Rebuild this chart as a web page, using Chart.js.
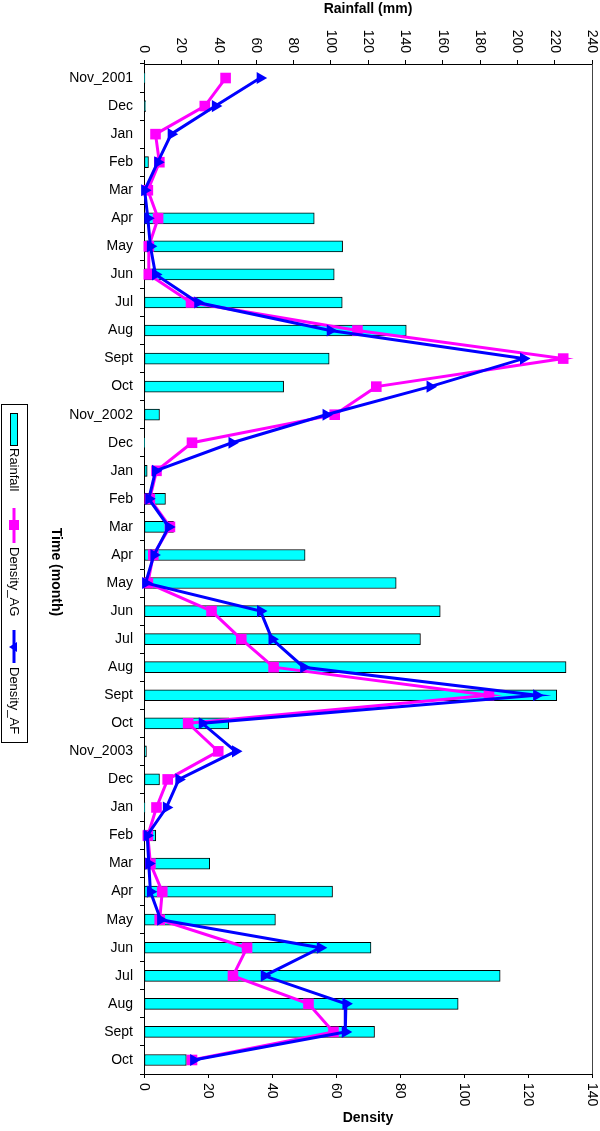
<!DOCTYPE html>
<html>
<head>
<meta charset="utf-8">
<script src="https://cdn.jsdelivr.net/npm/chart.js@4/dist/chart.umd.min.js"></script>
<style>
  html, body { margin: 0; padding: 0; background: #fff; }
</style>
</head>
<body>
<canvas id="chart" width="600" height="1131"></canvas>
<script>
// categories (one per month, Nov 2001 - Oct 2004)
const months = ['Nov_2001', 'Dec', 'Jan', 'Feb', 'Mar', 'Apr', 'May', 'Jun', 'Jul', 'Aug', 'Sept', 'Oct',
  'Nov_2002', 'Dec', 'Jan', 'Feb', 'Mar', 'Apr', 'May', 'Jun', 'Jul', 'Aug', 'Sept', 'Oct',
  'Nov_2003', 'Dec', 'Jan', 'Feb', 'Mar', 'Apr', 'May', 'Jun', 'Jul', 'Aug', 'Sept', 'Oct'];

// rainfall in mm (top axis)
const rainfall = [0.5, 0.8, 0, 2.4, 0, 91.2, 106.4, 101.9, 106.2, 140.5, 99.2, 74.8,
  8.3, 0.3, 1.7, 11.5, 15.8, 86.3, 135.1, 158.7, 148.1, 226.1, 221.1, 45.4,
  1.3, 8.3, 0.5, 6.3, 35.2, 101.0, 70.4, 121.6, 190.8, 168.3, 123.5, 22.7];

// densities (bottom axis)
const densityAG = [25.5, 19.0, 3.6, 4.8, 1.2, 4.4, 1.5, 1.5, 14.7, 66.7, 131.0, 72.6,
  59.6, 15.0, 3.9, 1.8, 8.1, 2.9, 1.2, 21.1, 30.4, 40.5, 107.8, 13.8,
  23.2, 7.4, 3.9, 1.2, 2.0, 5.7, 4.9, 32.2, 27.8, 51.4, 59.2, 15.0];
const densityAF = [36.3, 22.3, 8.5, 4.3, 0.2, 1.2, 2.0, 3.6, 16.8, 58.2, 118.6, 89.4,
  56.9, 27.5, 3.6, 1.5, 7.7, 3.1, 0.5, 36.4, 40.0, 49.9, 122.7, 18.2,
  28.6, 10.9, 7.0, 1.0, 1.5, 2.0, 5.2, 55.1, 37.6, 63.1, 62.9, 15.5];

// tick labels
const rainTicks = [0, 20, 40, 60, 80, 100, 120, 140, 160, 180, 200, 220, 240];
const densTicks = [0, 20, 40, 60, 80, 100, 120, 140];

const FONT = '"Liberation Sans", Arial, Helvetica, sans-serif';

// text turned a quarter turn clockwise (reads top to bottom)
const rotText = (ctx, text, x, y, align) => {
  ctx.save();
  ctx.translate(x, y);
  ctx.rotate(Math.PI / 2);
  ctx.textAlign = align;
  ctx.textBaseline = 'middle';
  ctx.fillText(text, 0, 0);
  ctx.restore();
};

const decorations = {
  id: 'decorations',
  afterDraw(chart) {
    const ctx = chart.ctx;
    const area = chart.chartArea;
    const xr = chart.scales.xr;
    const xd = chart.scales.xd;
    const midX = (area.left + area.right) / 2;
    const midY = (area.top + area.bottom) / 2;

    ctx.save();
    ctx.fillStyle = '#000';

    // value tick labels
    ctx.font = '14px ' + FONT;
    rainTicks.forEach(v => rotText(ctx, String(v), xr.getPixelForValue(v), area.top - 11, 'right'));
    densTicks.forEach(v => rotText(ctx, String(v), xd.getPixelForValue(v), area.bottom + 9, 'left'));

    // right edge of the plot box
    ctx.strokeStyle = '#444';
    ctx.lineWidth = 1;
    ctx.beginPath();
    ctx.moveTo(area.right + 0.5, area.top);
    ctx.lineTo(area.right + 0.5, area.bottom);
    ctx.stroke();

    // axis titles
    ctx.font = 'bold 14px ' + FONT;
    ctx.textAlign = 'center';
    ctx.textBaseline = 'middle';
    ctx.fillText('Rainfall (mm)', midX, 9);
    ctx.fillText('Density', midX, 1118);
    rotText(ctx, 'Time (month)', 56, midY + 3, 'center');

    // legend box
    ctx.strokeStyle = '#000';
    ctx.strokeRect(1.5, 404.5, 26, 338);

    // Rainfall swatch
    ctx.fillStyle = '#00FFFF';
    ctx.fillRect(10.5, 413.5, 7, 32);
    ctx.strokeRect(10.5, 413.5, 7, 32);

    // Density_AG symbol
    ctx.strokeStyle = '#FF00FF';
    ctx.lineWidth = 3;
    ctx.beginPath();
    ctx.moveTo(14, 508);
    ctx.lineTo(14, 543);
    ctx.stroke();
    ctx.fillStyle = '#FF00FF';
    ctx.fillRect(9, 520, 10, 10);

    // Density_AF symbol
    ctx.strokeStyle = '#0000FF';
    ctx.beginPath();
    ctx.moveTo(14, 630);
    ctx.lineTo(14, 663);
    ctx.stroke();
    ctx.fillStyle = '#0000FF';
    ctx.beginPath();
    ctx.moveTo(9, 647);
    ctx.lineTo(17, 642);
    ctx.lineTo(17, 652);
    ctx.closePath();
    ctx.fill();

    ctx.fillStyle = '#000';
    ctx.font = '13px ' + FONT;
    rotText(ctx, 'Rainfall', 14, 448, 'left');
    rotText(ctx, 'Density_AG', 14, 547, 'left');
    rotText(ctx, 'Density_AF', 14, 667, 'left');

    ctx.restore();
  }
};

const ctx = document.getElementById('chart');

new Chart(ctx, {
  type: 'bar',
  data: {
    labels: months,
    datasets: [
      {
        label: 'Rainfall',
        data: rainfall,
        xAxisID: 'xr',
        yAxisID: 'y',
        backgroundColor: '#00FFFF',
        borderColor: '#000',
        borderWidth: 1,
        borderSkipped: false,
        barThickness: 11,
        order: 3
      },
      {
        type: 'line',
        label: 'Density_AG',
        data: densityAG,
        indexAxis: 'y',
        xAxisID: 'xd',
        yAxisID: 'y',
        borderColor: '#FF00FF',
        backgroundColor: '#FF00FF',
        borderWidth: 3,
        pointStyle: 'rect',
        pointRadius: 7.5,
        pointBorderWidth: 0,
        tension: 0,
        clip: false,
        order: 2
      },
      {
        type: 'line',
        label: 'Density_AF',
        data: densityAF,
        indexAxis: 'y',
        xAxisID: 'xd',
        yAxisID: 'y',
        borderColor: '#0000FF',
        backgroundColor: '#0000FF',
        borderWidth: 3,
        pointStyle: 'triangle',
        pointRotation: 90,
        pointRadius: 7,
        pointBorderWidth: 0,
        tension: 0,
        clip: false,
        order: 1
      }
    ]
  },
  options: {
    indexAxis: 'y',
    responsive: false,
    animation: false,
    layout: { padding: { left: 0, right: 8, top: 0, bottom: 0 } },
    plugins: {
      legend: { display: false },
      tooltip: { enabled: false }
    },
    scales: {
      y: {
        type: 'category',
        position: 'left',
        offset: true,
        grid: { drawOnChartArea: false, drawTicks: true, tickLength: 4, color: '#000', offset: true },
        border: { display: true, color: '#000', width: 1 },
        ticks: { color: '#000', font: { family: FONT, size: 14 }, padding: 7, autoSkip: false },
        afterFit: (s) => { s.width = 144; }
      },
      xr: {
        type: 'linear',
        position: 'top',
        min: 0,
        max: 240,
        grid: { drawOnChartArea: false, drawTicks: true, tickLength: 4, color: '#000' },
        border: { display: true, color: '#000', width: 1 },
        ticks: { display: false },
        afterBuildTicks: (s) => { s.ticks = rainTicks.map(v => ({ value: v })); },
        afterFit: (s) => { s.height = 64; }
      },
      xd: {
        type: 'linear',
        position: 'bottom',
        min: 0,
        max: 140,
        grid: { drawOnChartArea: false, drawTicks: true, tickLength: 4, color: '#000' },
        border: { display: true, color: '#000', width: 1 },
        ticks: { display: false },
        afterBuildTicks: (s) => { s.ticks = densTicks.map(v => ({ value: v })); },
        afterFit: (s) => { s.height = 57; }
      }
    }
  },
  plugins: [decorations]
});
</script>
</body>
</html>
